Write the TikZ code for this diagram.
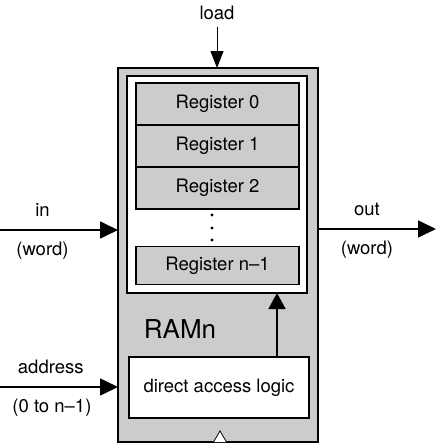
\documentclass[tikz,border=0pt]{standalone}
\usepackage{fontspec}
\setmainfont{TeX Gyre Heros}
\usetikzlibrary{arrows.meta,positioning}

\begin{document}
\begin{tikzpicture}[x=1pt,y=-1pt,node distance=0pt,
    >={Triangle[length=18pt,width=17pt]},
    font=\fontsize{18.5}{22}\selectfont,
    box/.style={draw,line width=1.1pt,outer sep=0pt,inner sep=0pt},
    reg/.style={box,fill=black!20,minimum width=163pt,minimum height=42pt},
    wire/.style={->,line width=1.7pt}]
  \useasboundingbox (0,0) rectangle (436,447);
  \node[box,fill=black!20,minimum width=200pt,minimum height=374pt] (ram) at (218,255) {};
  \node[box,fill=white,minimum width=180pt,minimum height=217pt] (mem) at (217,184.5) {};
  \node[reg] (r_0) at (217.5,104) {Register 0};
  \node[reg] (r_1) [below=of r_0] {Register 1};
  \node[reg] (r_2) [below=of r_1] {Register 2};
  \node[reg,minimum height=38pt] (r_n) at (217.5,265.5) {Register n--1};
  \foreach \y in {215,228,240} \fill (212,\y) circle (1.6pt);
  \node[font=\fontsize{26}{30}\selectfont] (name) at (180,329) {RAMn};
  \node[box,fill=white,minimum width=180pt,minimum height=61pt] (dal) at (219,387.5) {direct access logic};
  \draw[fill=white,line width=0.8pt] (213.5,442) -- (220,431) -- (226.5,442);
  \node (load) at (217,13) {load};
  \coordinate (in) at (0,230);
  \coordinate (addr) at (0,387);
  \coordinate (out) at (436,229);
  \draw[wire,-{Triangle[length=16pt,width=17pt]}] ([xshift=58pt]dal.north) -- ([xshift=58pt]dal.north |- mem.south);
  \draw[-{Triangle[length=17pt,width=13pt]},line width=1pt,shorten <=4pt] (load) -- (load |- ram.north);
  \draw[wire] (in) -- (in -| ram.west)
    node[pos=0.36,above=9pt] {in} node[pos=0.36,below=8pt] {(word)};
  \draw[wire] (addr) -- (addr -| ram.west)
    node[pos=0.43,above=9pt] {address} node[pos=0.44,below=8pt] {(0 to n--1)};
  \draw[wire] (ram.east |- out) -- (out)
    node[pos=0.415,above=9pt] {out} node[pos=0.415,below=8pt] {(word)};
\end{tikzpicture}
\end{document}
